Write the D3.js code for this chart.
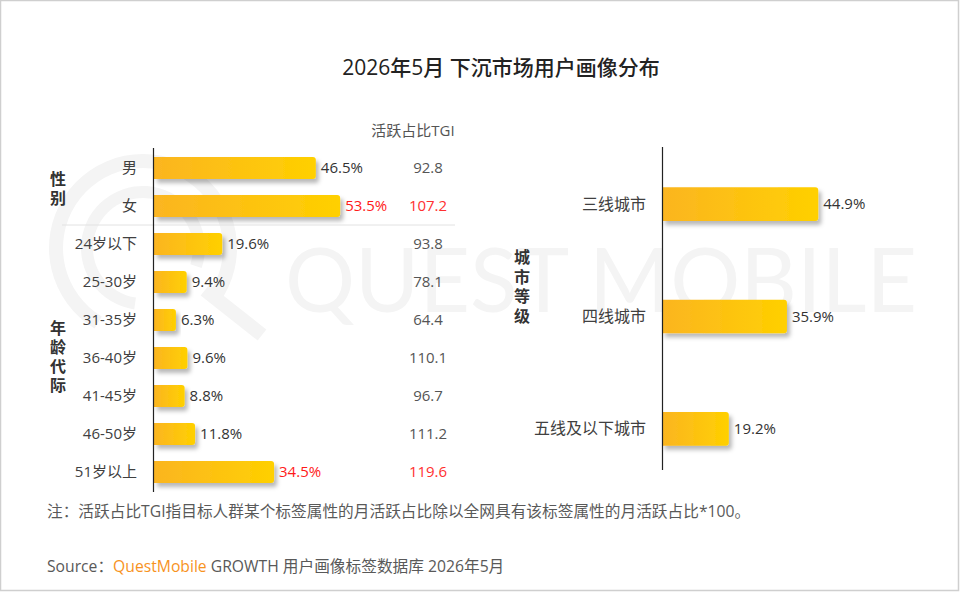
<!DOCTYPE html>
<html lang="zh">
<head>
<meta charset="UTF-8">
<title>下沉市场用户画像分布</title>
<script src="https://d3js.org/d3.v7.min.js"></script>
<style>
  html, body { margin: 0; padding: 0; background: #fff; }
  svg { display: block; font-family: "Open Sans", "Noto Sans CJK SC", sans-serif; }
</style>
</head>
<body>
<svg id="chart" width="960" height="592"></svg>

<script>
// data
var genderCats = ["男", "女"];
var genderVals = [46.5, 53.5];
var genderTgi = [92.8, 107.2];

var ageCats = ["24岁以下", "25-30岁", "31-35岁", "36-40岁", "41-45岁", "46-50岁", "51岁以上"];
var ageVals = [19.6, 9.4, 6.3, 9.6, 8.8, 11.8, 34.5];
var ageTgi = [93.8, 78.1, 64.4, 110.1, 96.7, 111.2, 119.6];

var cityCats = ["三线城市", "四线城市", "五线及以下城市"];
var cityVals = [44.9, 35.9, 19.2];

var redCats = ["女", "51岁以上"];

var svg = d3.select("#chart");
var W = 960, H = 592;

// frame
svg.append("rect").attr("x", 0.5).attr("y", 0.5).attr("width", W - 2).attr("height", H - 2)
  .attr("fill", "#fff").attr("stroke", "#cfcfcf").attr("stroke-width", 1.5);

var defs = svg.append("defs");
var grad = defs.append("linearGradient").attr("id", "barGrad").attr("x1", "0%").attr("x2", "100%");
grad.append("stop").attr("offset", "0%").attr("stop-color", "#fbb521");
grad.append("stop").attr("offset", "100%").attr("stop-color", "#ffd000");
var shadow = defs.append("filter").attr("id", "shadow").attr("x", "-10%").attr("y", "-30%").attr("width", "130%").attr("height", "180%");
shadow.append("feDropShadow").attr("dx", 3).attr("dy", 4).attr("stdDeviation", 2)
  .attr("flood-color", "#000").attr("flood-opacity", 0.28);

// watermark (logo + wordmark)
var wm = svg.append("g").attr("class", "watermark").attr("aria-hidden", "true");
var arc = d3.arc();
wm.append("path").attr("transform", "translate(143,248)").attr("fill", "#f4f4f4")
  .attr("d", arc({innerRadius: 80, outerRadius: 94, startAngle: -2.6, endAngle: 2.2}));
wm.append("path").attr("transform", "translate(143,248)").attr("fill", "#f4f4f4")
  .attr("d", arc({innerRadius: 50, outerRadius: 62, startAngle: -3.0, endAngle: 1.9}));
wm.append("line").attr("x1", 205).attr("y1", 290).attr("x2", 262).attr("y2", 335)
  .attr("stroke", "#f4f4f4").attr("stroke-width", 14);
wm.append("text").attr("x", 285).attr("y", 312)
  .attr("textLength", 632).attr("lengthAdjust", "spacingAndGlyphs")
  .attr("font-size", 90).attr("font-family", "Lato, sans-serif")
  .attr("fill", "#f4f4f4").text("QUEST MOBILE");

// title
svg.append("text").attr("x", 501).attr("y", 75).attr("text-anchor", "middle")
  .attr("font-size", 21).attr("font-weight", 500).attr("fill", "#222")
  .text("2026年5月 下沉市场用户画像分布");

// shared x scale (percent -> px)
var x0 = 154;
var x = d3.scaleLinear().domain([0, 100]).range([0, 348]);

function barPath(w, h) {
  var r = Math.min(3, w / 2);
  return "M0,0H" + (w - r) + "Q" + w + ",0 " + w + "," + r + "V" + (h - r) +
    "Q" + w + "," + h + " " + (w - r) + "," + h + "H0Z";
}

// ---------- left chart ----------
var leftCats = genderCats.concat(ageCats);
var leftVals = genderVals.concat(ageVals);
var leftTgi = genderTgi.concat(ageTgi);

var yL = d3.scaleBand().domain(leftCats).range([149, 491]).paddingInner(0.42).paddingOuter(0.21);

var gl = svg.append("g");
gl.selectAll("path.bar").data(leftCats).enter().append("path")
  .attr("class", "bar")
  .attr("transform", function(d) { return "translate(" + x0 + "," + yL(d) + ")"; })
  .attr("d", function(d, i) { return barPath(x(leftVals[i]), yL.bandwidth()); })
  .attr("fill", "url(#barGrad)").attr("filter", "url(#shadow)");

gl.selectAll("text.val").data(leftCats).enter().append("text")
  .attr("x", function(d, i) { return x0 + x(leftVals[i]) + 5; })
  .attr("y", function(d) { return yL(d) + yL.bandwidth() / 2; })
  .attr("dy", "0.35em").attr("font-size", 15)
  .attr("fill", function(d) { return redCats.indexOf(d) >= 0 ? "#ff1a1a" : "#333"; })
  .text(function(d, i) { return leftVals[i].toFixed(1) + "%"; });

gl.selectAll("text.cat").data(leftCats).enter().append("text")
  .attr("x", 137)
  .attr("y", function(d) { return yL(d) + yL.bandwidth() / 2; })
  .attr("dy", "0.35em").attr("font-size", 15).attr("text-anchor", "end").attr("fill", "#404040")
  .text(function(d) { return d; });

gl.selectAll("text.tgi").data(leftCats).enter().append("text")
  .attr("x", 428)
  .attr("y", function(d) { return yL(d) + yL.bandwidth() / 2; })
  .attr("dy", "0.35em").attr("font-size", 15).attr("text-anchor", "middle")
  .attr("fill", function(d) { return redCats.indexOf(d) >= 0 ? "#ff3030" : "#555"; })
  .text(function(d, i) { return leftTgi[i].toFixed(1); });

gl.append("text").attr("x", 413).attr("y", 131).attr("dy", "0.35em")
  .attr("text-anchor", "middle").attr("font-size", 15).attr("fill", "#555").text("活跃占比TGI");

// separator between gender and age
var sepY = (yL("女") + yL.bandwidth() + yL("24岁以下")) / 2;
gl.append("line").attr("x1", 62).attr("x2", 455).attr("y1", sepY).attr("y2", sepY)
  .attr("stroke", "#e2e2e2").attr("stroke-width", 1);

gl.append("line").attr("x1", 153.5).attr("x2", 153.5).attr("y1", 148).attr("y2", 492)
  .attr("stroke", "#222").attr("stroke-width", 1.2);

function vLabel(g, chars, cx, cy, step) {
  var t0 = cy - (chars.length - 1) * step / 2;
  g.selectAll(null).data(chars).enter().append("text")
    .attr("x", cx).attr("y", function(d, i) { return t0 + i * step; })
    .attr("dy", "0.35em").attr("text-anchor", "middle")
    .attr("font-size", 16).attr("font-weight", "bold").attr("fill", "#333")
    .text(function(d) { return d; });
}
vLabel(gl, ["性", "别"], 58, 189, 19);
vLabel(gl, ["年", "龄", "代", "际"], 58, 357, 19);

// ---------- right chart ----------
var x1 = 662;
var yR = d3.scaleBand().domain(cityCats).range([148, 485]).paddingInner(0.7).paddingOuter(0.35);

var gr = svg.append("g");
gr.selectAll("path.bar").data(cityCats).enter().append("path")
  .attr("transform", function(d) { return "translate(" + x1 + "," + yR(d) + ")"; })
  .attr("d", function(d, i) { return barPath(x(cityVals[i]), yR.bandwidth()); })
  .attr("fill", "url(#barGrad)").attr("filter", "url(#shadow)");

gr.selectAll("text.val").data(cityCats).enter().append("text")
  .attr("x", function(d, i) { return x1 + x(cityVals[i]) + 5; })
  .attr("y", function(d) { return yR(d) + yR.bandwidth() / 2; })
  .attr("dy", "0.35em").attr("font-size", 15).attr("fill", "#333")
  .text(function(d, i) { return cityVals[i].toFixed(1) + "%"; });

gr.selectAll("text.cat").data(cityCats).enter().append("text")
  .attr("x", 646)
  .attr("y", function(d) { return yR(d) + yR.bandwidth() / 2; })
  .attr("dy", "0.35em").attr("font-size", 16).attr("text-anchor", "end").attr("fill", "#404040")
  .text(function(d) { return d; });

gr.append("line").attr("x1", 662.5).attr("x2", 662.5).attr("y1", 147).attr("y2", 470)
  .attr("stroke", "#222").attr("stroke-width", 1.2);

vLabel(gr, ["城", "市", "等", "级"], 522, 287, 19.5);

// ---------- footer ----------
svg.append("text").attr("x", 47).attr("y", 512).attr("dy", "0.35em")
  .attr("font-size", 15.7).attr("fill", "#595959")
  .text("注：活跃占比TGI指目标人群某个标签属性的月活跃占比除以全网具有该标签属性的月活跃占比*100。");

var src = svg.append("text").attr("x", 47).attr("y", 567).attr("dy", "0.35em")
  .attr("font-size", 15.7).attr("fill", "#595959");
src.append("tspan").text("Source：");
src.append("tspan").attr("fill", "#f7931e").text("QuestMobile");
src.append("tspan").text(" GROWTH 用户画像标签数据库 2026年5月");
</script>
</body>
</html>
